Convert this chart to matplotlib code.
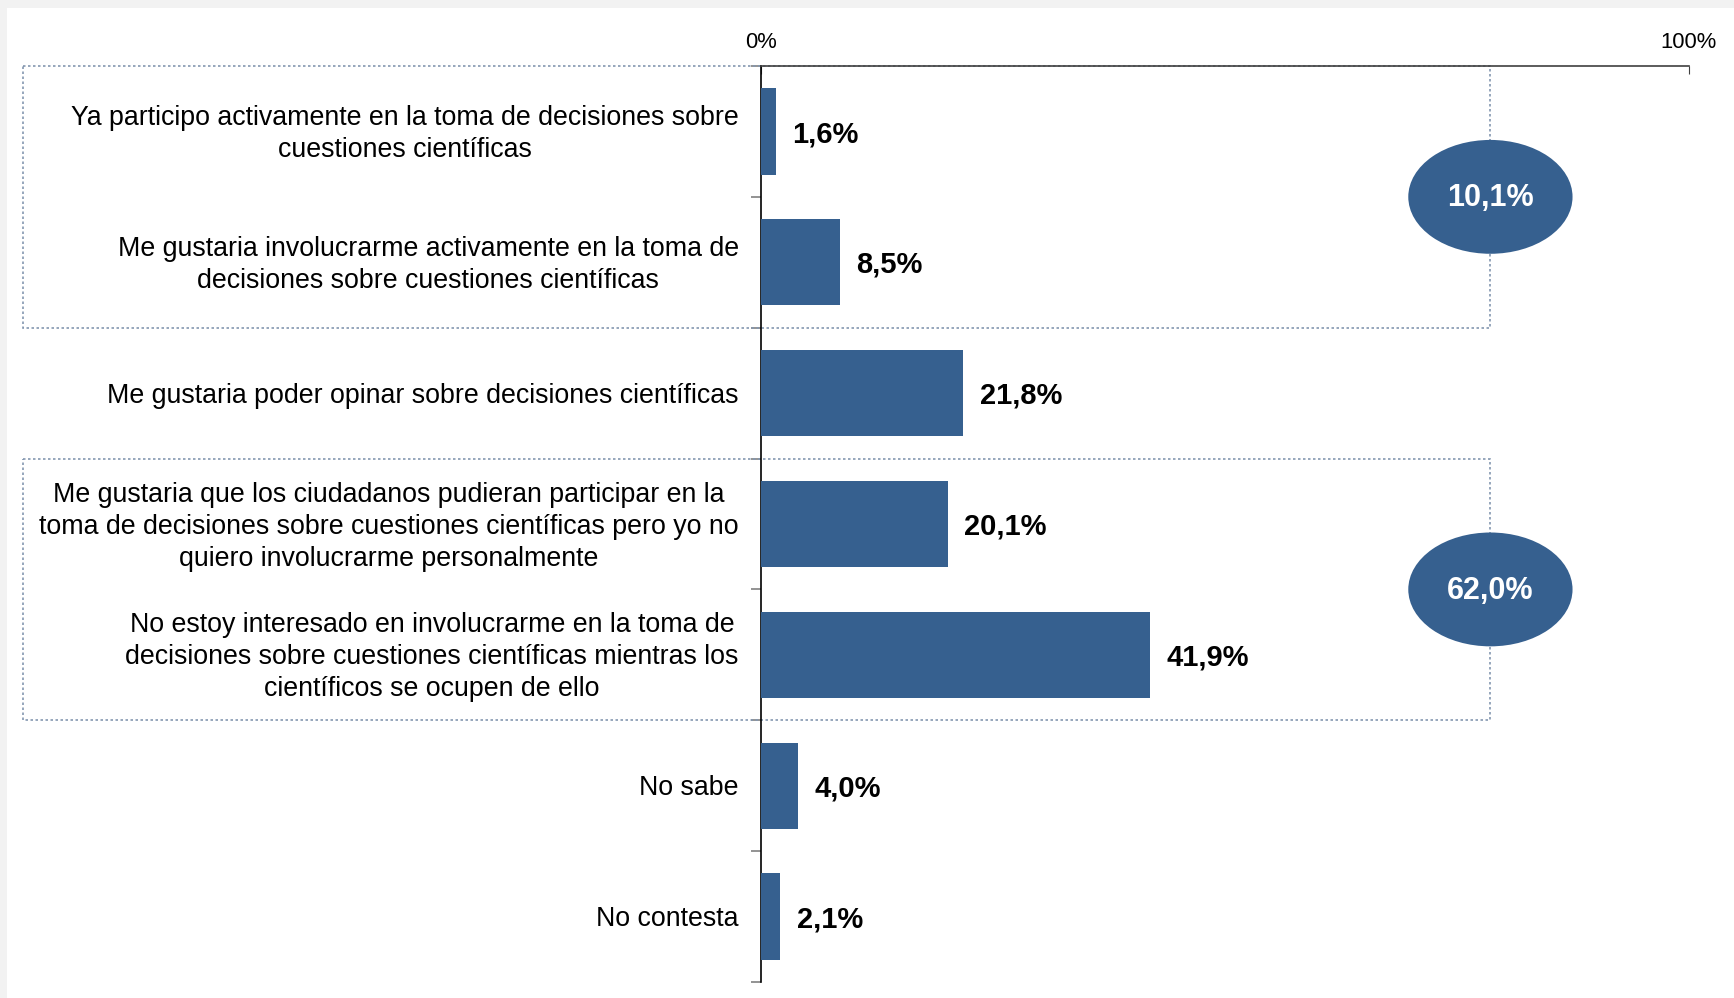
import matplotlib.pyplot as plt
from matplotlib.patches import Ellipse, Rectangle
import numpy as np

plt.rcParams['font.family'] = ['Liberation Sans', 'DejaVu Sans']

categories = [
    'Ya participo activamente en la toma de decisiones sobre\ncuestiones científicas',
    'Me gustaria involucrarme activamente en la toma de\ndecisiones sobre cuestiones científicas',
    'Me gustaria poder opinar sobre decisiones científicas',
    'Me gustaria que los ciudadanos pudieran participar en la\ntoma de decisiones sobre cuestiones científicas pero yo no\nquiero involucrarme personalmente',
    'No estoy interesado en involucrarme en la toma de\ndecisiones sobre cuestiones científicas mientras los\ncientíficos se ocupen de ello',
    'No sabe',
    'No contesta',
]
values = [1.6, 8.5, 21.8, 20.1, 41.9, 4.0, 2.1]
group_rows = [(0, 1), (3, 4)]
group_totals = [10.1, 62.0]

bar_color = '#36608f'
box_color = '#8497b0'

W, H = 1734, 998
fig = plt.figure(figsize=(W / 100, H / 100), dpi=100, facecolor='#f2f2f2')
# white panel
fig.add_artist(Rectangle((7 / W, 0), 1, 1 - 8 / H, transform=fig.transFigure,
                         facecolor='white', edgecolor='none', zorder=-10))

x0, x1 = 761, 1689
y_top, y_bot = 66, 982
ax = fig.add_axes([x0 / W, 1 - y_bot / H, (x1 - x0) / W, (y_bot - y_top) / H])
ax.set_facecolor('none')

y = np.arange(len(values))
ax.barh(y, values, height=0.66, color=bar_color, zorder=3)
ax.set_xlim(0, 100)
ax.set_ylim(len(values) - 0.5, -0.5)

for yi, v in zip(y, values):
    ax.text(v + 1.8, yi + 0.02, f'{v:.1f}%'.replace('.', ','), va='center', ha='left',
            fontsize=21, fontweight='bold', color='black')

# category labels
for yi, lab in zip(y, categories):
    ax.text(-2.4, yi + 0.02, lab, va='center', ha='right', fontsize=19.3,
            color='black', linespacing=1.3, multialignment='center')

# axes styling
for s in ['right', 'bottom']:
    ax.spines[s].set_visible(False)
ax.spines['left'].set_color('black')
ax.spines['left'].set_linewidth(1.2)
ax.spines['top'].set_color('#404040')
ax.spines['top'].set_linewidth(1.2)
ax.xaxis.tick_top()
ax.set_xticks([0, 100])
ax.set_xticklabels(['0%', '100%'])
ax.tick_params(axis='x', direction='in', length=6, color='#404040', labelsize=15.8,
               pad=9, labelcolor='black')
ax.set_yticks([])
ax.set_yticks(np.arange(-0.5, len(values)), minor=True)
ax.tick_params(axis='y', which='minor', direction='out', length=7, color='#808080', width=1.2)

# dotted group boxes and ellipses
box_left, box_right = -79.5, 78.6
for (r0, r1), tot in zip(group_rows, group_totals):
    rect = Rectangle((box_left, r0 - 0.5), box_right - box_left, r1 - r0 + 1,
                     fill=False, edgecolor=box_color, linestyle=(0, (1.5, 1.5)),
                     linewidth=1.2, clip_on=False, zorder=2)
    ax.add_patch(rect)
    yc = (r0 + r1) / 2
    ax.add_patch(Ellipse((box_right, yc), 17.7, 0.87, facecolor=bar_color,
                         edgecolor='none', clip_on=False, zorder=4))
    ax.text(box_right, yc + 0.01, f'{tot:.1f}%'.replace('.', ','), ha='center', va='center',
            color='white', fontsize=22, fontweight='bold', zorder=5)

fig.savefig('out.png', dpi=100, facecolor=fig.get_facecolor())
